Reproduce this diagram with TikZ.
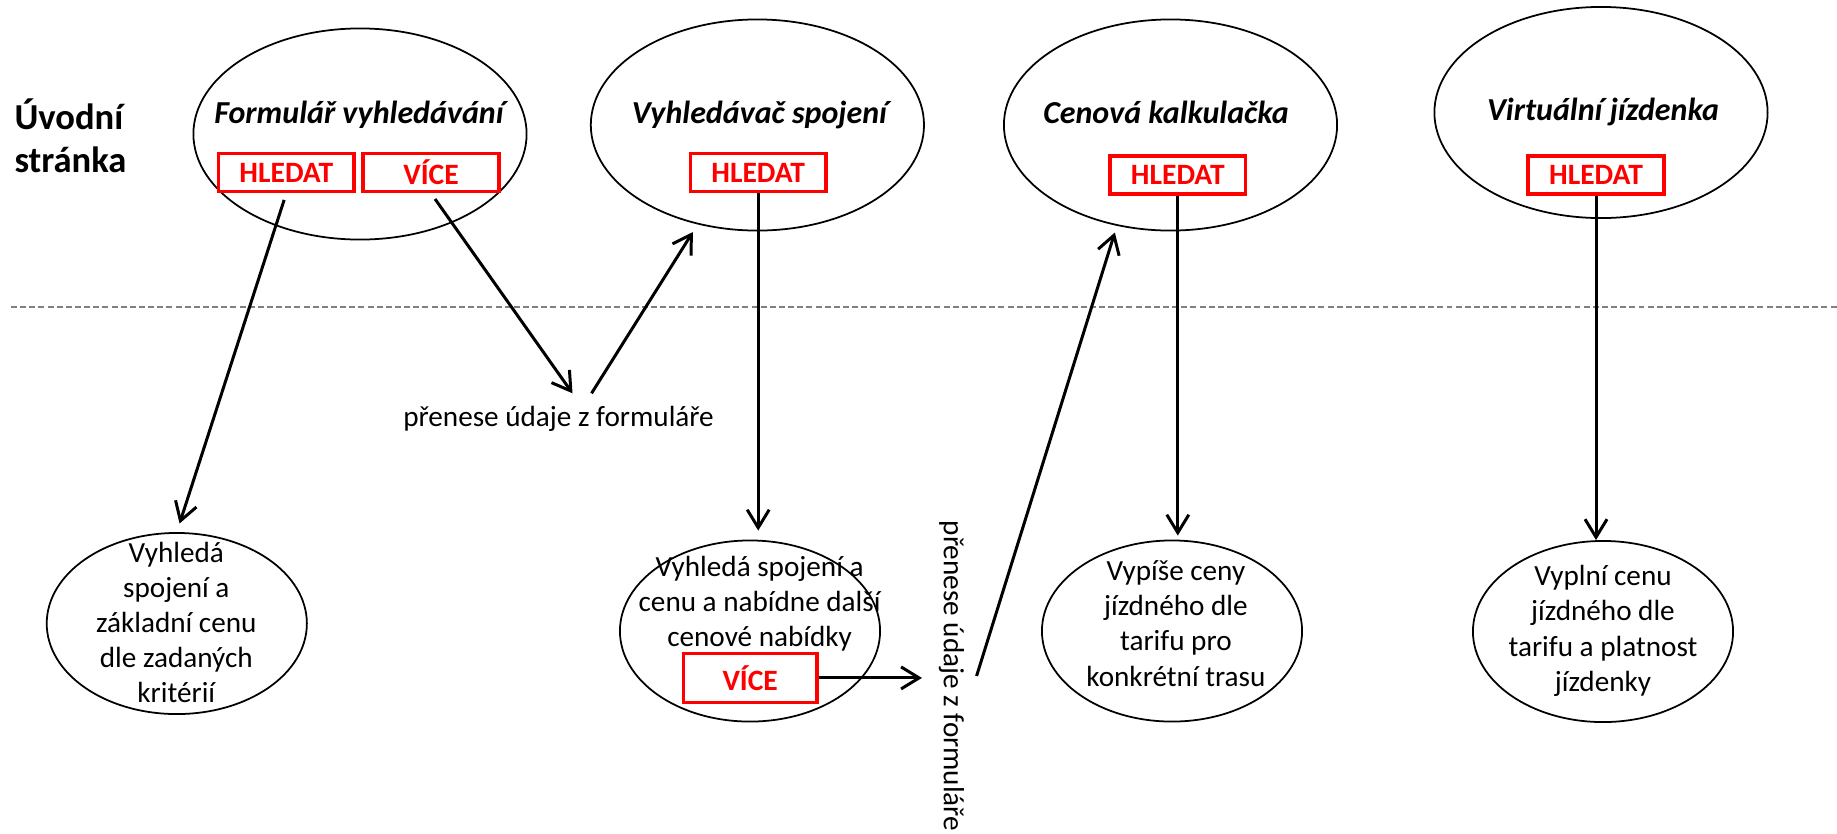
\documentclass[tikz,border=0pt]{standalone}
\usepackage{fontspec}
\setmainfont{Carlito}
\usetikzlibrary{shapes.geometric, arrows.meta}

\begin{document}
\begin{tikzpicture}[x=0.01cm, y=-0.01cm,
    ell/.style={draw, ellipse, line width=0.5pt, minimum width=3.33cm, minimum height=2.11cm},
    dell/.style={draw, ellipse, line width=0.5pt, minimum width=2.6cm, minimum height=1.81cm},
    btn/.style={draw=red, line width=1pt, text=red, font=\fontsize{8.4}{10}\selectfont\bfseries,
      minimum width=1.355cm, minimum height=0.38cm, inner sep=0pt},
    ttl/.style={font=\fontsize{9.1}{11}\selectfont\bfseries\itshape, anchor=base},
    txt/.style={font=\fontsize{8.3}{10}\selectfont, align=center, inner sep=0pt},
    lbl/.style={font=\fontsize{8.3}{10}\selectfont},
    arr/.style={-{Straight Barb[length=1.8mm, width=2.2mm]}, line width=0.85pt}]
\useasboundingbox (0,0) rectangle (1837,833);

% uvodni stranka
\node[font=\fontsize{10.4}{12.3}\selectfont\bfseries, align=left, anchor=west, inner sep=0pt] (uvod) at (13.8,136) {Úvodní\\stránka};
\draw[gray, dash pattern=on 1.7pt off 0.9pt, line width=0.45pt] (11,306.7) -- (1837,306.7);

% horni rada
\node[ell] (e1) at (360,134) {};
\node[ttl] (t1) at (359,123.3) {Formulář vyhledávání};
\node[btn] (h1) at (286.3,172.5) {HLEDAT};
\node[btn] (v1) at (431,172.5) {VÍCE};

\node[ell] (e2) at (757.4,125) {};
\node[ttl] (t2) at (759.5,123) {Vyhledávač spojení};
\node[btn] (h2) at (758.2,172.5) {HLEDAT};

\node[ell] (e3) at (1170.5,125) {};
\node[ttl] (t3) at (1166,123) {Cenová kalkulačka};
\node[btn] (h3) at (1177.8,175) {HLEDAT};

\node[ell] (e4) at (1601,112.5) {};
\node[ttl] (t4) at (1603,120.7) {Virtuální jízdenka};
\node[btn] (h4) at (1596,175) {HLEDAT};

% dolni rada
\node[dell] (r1) at (176.8,623.5) {};
\node[txt] (r1t) at (176.3,622.5) {Vyhledá\\spojení a\\základní cenu\\dle zadaných\\kritérií};

\node[dell] (r2) at (750,631) {};
\node[txt] (r2t) at (759.6,603.4) {Vyhledá spojení a\\cenu a nabídne další\\cenové nabídky};
\node[btn, minimum width=1.335cm, minimum height=0.49cm] (v2) at (750.2,677.9) {VÍCE};

\node[dell] (r3) at (1172,631) {};
\node[txt] (r3t) at (1175.9,623.4) {Vypíše ceny\\jízdného dle\\tarifu pro\\konkrétní trasu};

\node[dell] (r4) at (1603,631.5) {};
\node[txt] (r4t) at (1603,630.9) {Vyplní cenu\\jízdného dle\\tarifu a platnost\\jízdenky};

\node[lbl, anchor=base] (p1) at (558.5,426) {přenese údaje z formuláře};
\node[lbl, rotate=-90] (p2) at (951.5,676) {přenese údaje z formuláře};

% sipky
\draw[arr, shorten <=0.7mm, shorten >=0.9mm] (h1.south) -- (r1.north);
\draw[arr, shorten <=0.7mm] (v1.south) -- ([xshift=1.4mm]p1.north);
\draw[arr, shorten >=0.9mm] ([xshift=3.3mm]p1.north) -- (e2.239);
\draw[arr, shorten >=0.9mm] (h2.south) -- (h2.south |- r2.north);
\draw[arr, shorten >=0.7mm] (p2.north) -- (e3.242);
\draw[arr, shorten >=0.45mm] (v2.east) -- (v2.east -| p2.south);
\draw[arr, shorten >=0.4mm] (h3.south) -- (h3.south |- r3.north);
\draw[arr] (h4.south) -- (h4.south |- r4.north);
\end{tikzpicture}
\end{document}
